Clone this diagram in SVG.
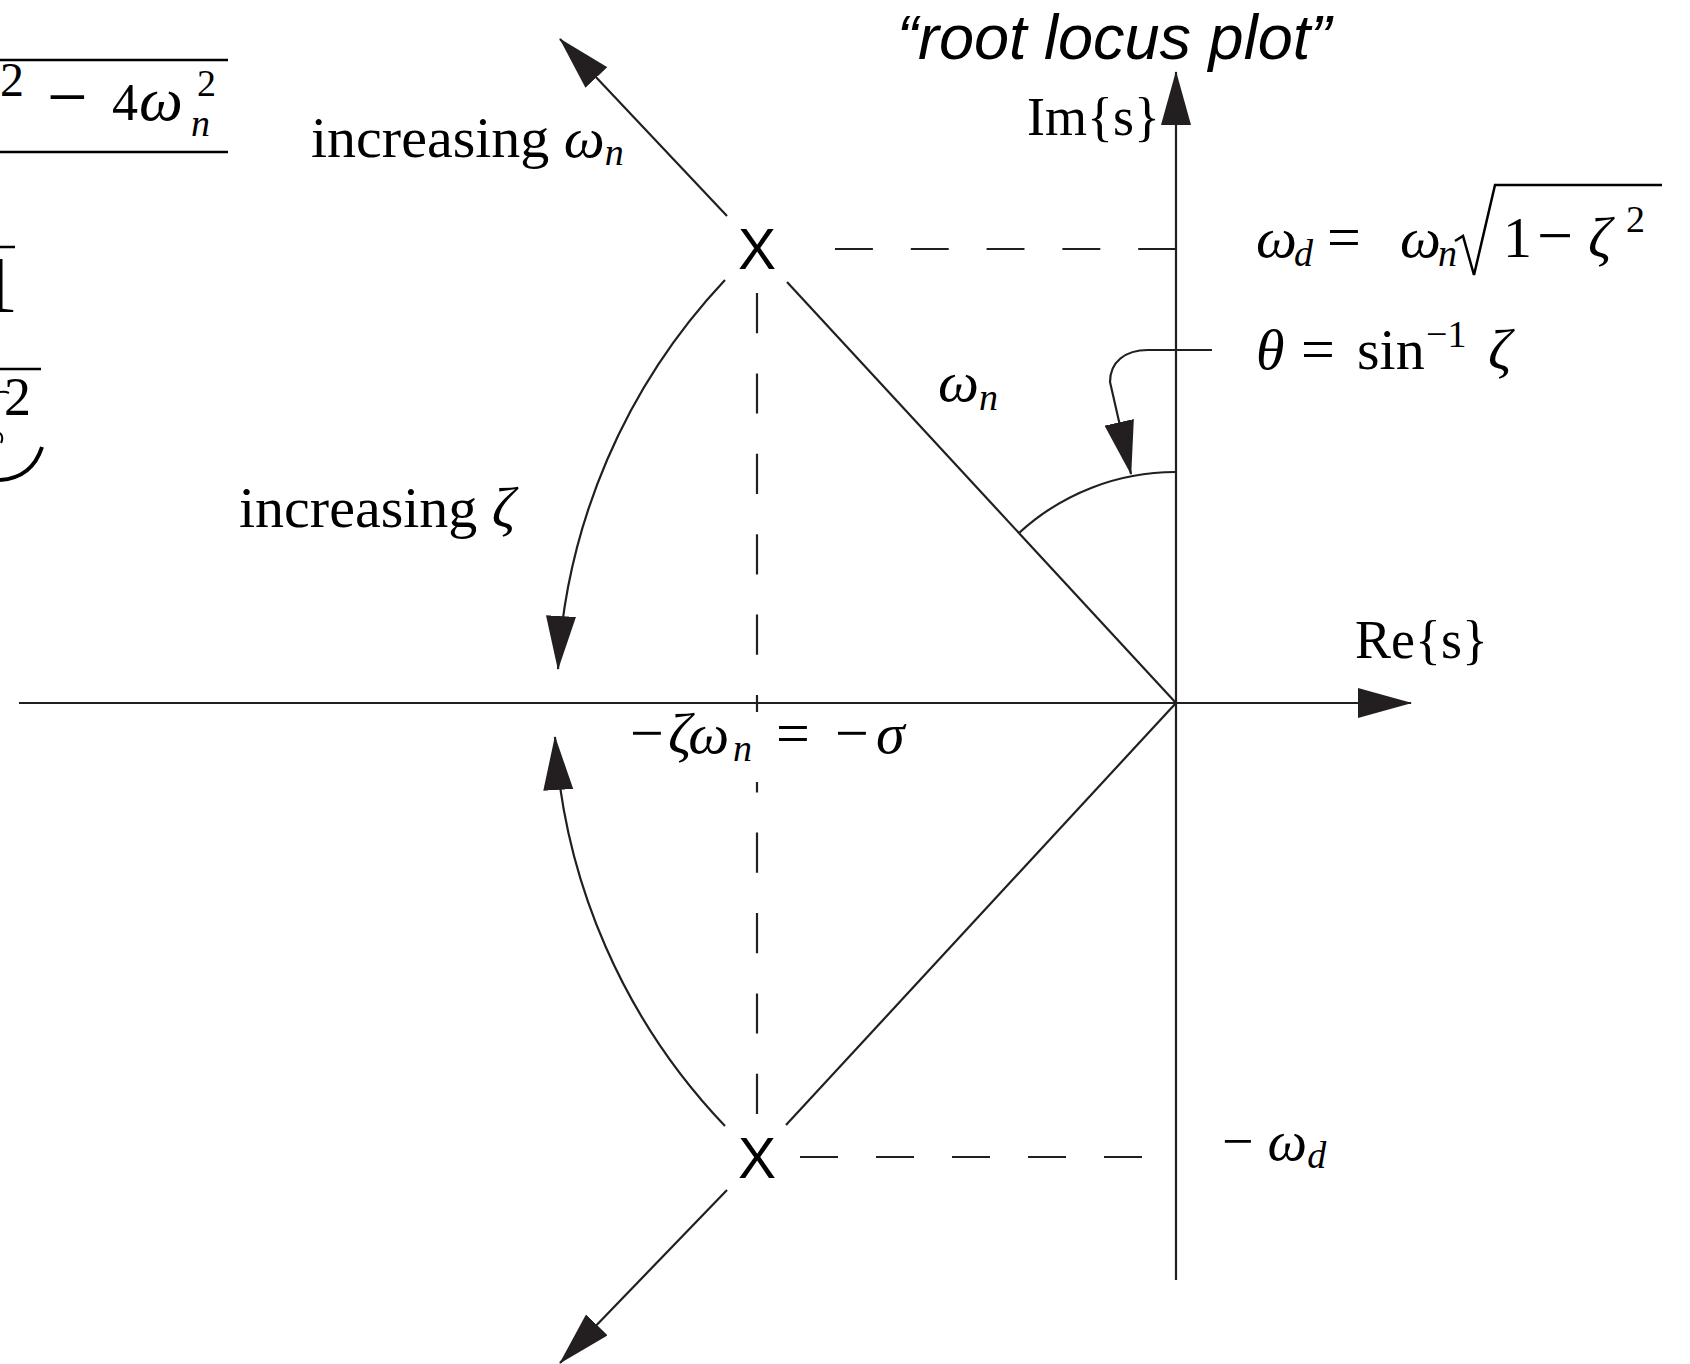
<svg xmlns="http://www.w3.org/2000/svg" width="1690" height="1364" viewBox="0 0 1690 1364">
<style>
.ln{fill:none;stroke:#231f20;stroke-width:2.2}
.dash{fill:none;stroke:#231f20;stroke-width:2.2;stroke-dasharray:40.2 40.2}
.m{font-family:"Liberation Serif","Times New Roman",serif;fill:#000}
.i{font-style:italic}
.h{font-family:"Liberation Sans",Arial,sans-serif;fill:#000}
.rule{stroke:#000;stroke-width:2.5;fill:none}
</style>
<defs>
<marker id="ah" markerUnits="userSpaceOnUse" markerWidth="54" markerHeight="30" viewBox="0 0 54 30" refX="53" refY="15" orient="auto">
<path d="M0,0 L54,15 L0,30 z" fill="#231f20"/>
</marker>
</defs>
<rect width="1690" height="1364" fill="#fff"/>

<g id="left-formula-fragments">
<line class="rule" x1="0" y1="60" x2="228" y2="60"/>
<text class="m" x="0" y="96" style="font-size:48px">2</text>
<text class="m" x="47" y="121" style="font-size:72px">−</text>
<text class="m" x="112" y="120" style="font-size:52px">4</text>
<text class="m i" x="139" y="120" style="font-size:62px">ω</text>
<text class="m" x="197" y="96" style="font-size:38px">2</text>
<text class="m i" x="191" y="136" style="font-size:38px">n</text>
<line class="rule" x1="0" y1="152" x2="228" y2="152"/>
<line class="rule" x1="0" y1="247" x2="15" y2="247"/>
<text class="m" x="-22" y="312" style="font-size:80px">1</text>
<line class="rule" x1="0" y1="369" x2="41" y2="369"/>
<text class="m" x="4" y="415" style="font-size:54px">2</text>
<path d="M0,392 Q5,391 9,393" fill="none" stroke="#000" stroke-width="2"/>
<path d="M0,433 Q4,437 1,443" fill="none" stroke="#000" stroke-width="2"/>
<path d="M0,480 Q32,478 42,447" fill="none" stroke="#000" stroke-width="4"/>
<circle cx="246" cy="492" r="2.5" fill="#000"/>
</g>

<g id="title">
<text class="h" x="897" y="59" style="font-size:63px;font-style:italic">“root locus plot”</text>
</g>

<g id="connectors">
<line class="ln" x1="19" y1="703" x2="1411" y2="703" marker-end="url(#ah)"/>
<line class="ln" x1="1176" y1="1280" x2="1176" y2="72" marker-end="url(#ah)"/>
<line class="ln" x1="727" y1="216" x2="560" y2="39" marker-end="url(#ah)"/>
<line class="ln" x1="727" y1="1190" x2="560" y2="1363" marker-end="url(#ah)"/>
<line class="ln" x1="787" y1="282" x2="1176" y2="703"/>
<line class="ln" x1="786" y1="1125" x2="1176" y2="703"/>
<line class="ln" x1="835" y1="249" x2="1176" y2="249" stroke-dasharray="37.9 37.9"/>
<line class="ln" x1="800" y1="1157" x2="1142" y2="1157" stroke-dasharray="38 38"/>
<line class="dash" x1="757" y1="293" x2="757" y2="712"/>
<line class="dash" x1="757" y1="1114" x2="757" y2="782"/>
<path class="ln" d="M725,280 A618,618 0 0 0 558,669" marker-end="url(#ah)"/>
<path class="ln" d="M725,1126 A618,618 0 0 1 555,737" marker-end="url(#ah)"/>
<path class="ln" d="M1019,533 A231,231 0 0 1 1176,472"/>
<path class="ln" d="M1212,350 L1148,350 C1125,350 1110,362 1110,382 L1131,474" marker-end="url(#ah)"/>
</g>

<g id="pole-upper">
<text class="h" x="757" y="269" style="font-size:57px" text-anchor="middle">X</text>
</g>
<g id="pole-lower">
<text class="h" x="757" y="1178" style="font-size:57px" text-anchor="middle">X</text>
</g>

<g id="labels">
<text class="m" x="311" y="157" style="font-size:58px">increasing <tspan class="i">ω</tspan><tspan class="i" dy="8" style="font-size:38px">n</tspan></text>
<text class="m" x="239" y="527" style="font-size:58px">increasing <tspan class="i">ζ</tspan></text>
<text class="m" x="1027" y="135" style="font-size:54px">Im{s}</text>
<text class="m" x="1355" y="658" style="font-size:54px">Re{s}</text>
<text class="m i" x="938" y="401" style="font-size:58px">ω<tspan dy="9" style="font-size:38px">n</tspan></text>

<g id="sigma-label">
<text class="m" x="630" y="753" style="font-size:60px">−</text>
<text class="m i" x="668" y="753" style="font-size:58px">ζω</text>
<text class="m i" x="733" y="761" style="font-size:38px">n</text>
<text class="m" x="776" y="753" style="font-size:60px">=</text>
<text class="m" x="835" y="753" style="font-size:60px">−</text>
<text class="m i" x="876" y="753" style="font-size:58px">σ</text>
</g>

<text class="m" x="1222" y="1160" style="font-size:56px">− <tspan class="i">ω</tspan><tspan class="i" dy="8" style="font-size:38px">d</tspan></text>

<g id="omega-d-label">
<text class="m i" x="1256" y="257" style="font-size:58px">ω</text>
<text class="m i" x="1294" y="266" style="font-size:38px">d</text>
<text class="m" x="1327" y="257" style="font-size:60px">=</text>
<text class="m i" x="1400" y="257" style="font-size:58px">ω</text>
<text class="m i" x="1438" y="266" style="font-size:38px">n</text>
<path class="rule" d="M1455,241 L1463,236 L1474,275 L1495,185 L1662,185"/>
<text class="m" x="1503" y="257" style="font-size:58px">1</text>
<text class="m" x="1537" y="257" style="font-size:64px">−</text>
<text class="m i" x="1588" y="257" style="font-size:58px">ζ</text>
<text class="m" x="1626" y="232" style="font-size:38px">2</text>
</g>

<g id="theta-label">
<text class="m i" x="1256" y="369" style="font-size:58px">θ</text>
<text class="m" x="1301" y="369" style="font-size:60px">=</text>
<text class="m" x="1357" y="369" style="font-size:58px">sin</text>
<text class="m" x="1426" y="347" style="font-size:38px">−1</text>
<text class="m i" x="1488" y="369" style="font-size:58px">ζ</text>
</g>
</g>
</svg>
